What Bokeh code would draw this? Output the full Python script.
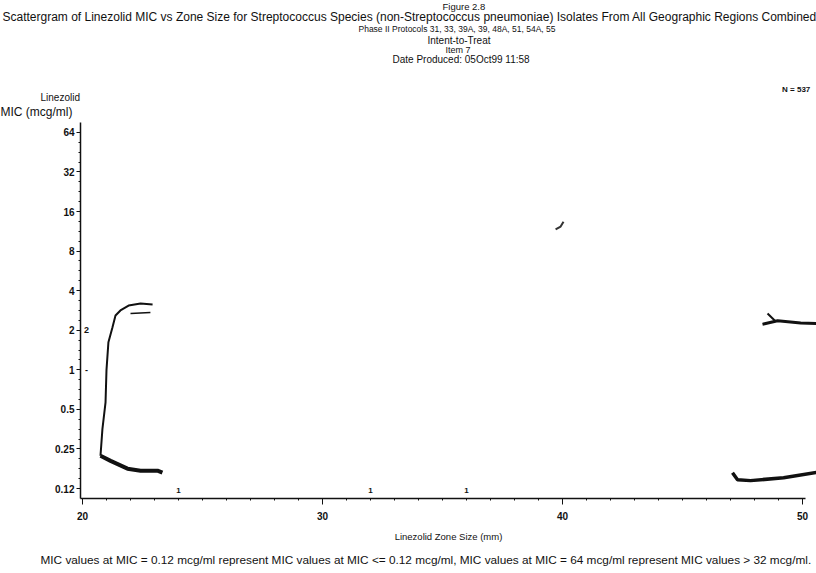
from bokeh.plotting import figure
from bokeh.models import Range1d, FixedTicker, Title
from bokeh.core.properties import value
from bokeh.embed import file_html
from bokeh.resources import INLINE

# ---- data ----
mic_ticks = [0.125, 0.25, 0.5, 1, 2, 4, 8, 16, 32, 64]
mic_tick_labels = ["0.12", "0.25", "0.5", "1", "2", "4", "8", "16", "32", "64"]
zone_ticks = [20, 30, 40, 50]
zone_minor = [21, 22, 23, 24, 25, 26, 27, 28, 29, 31, 32, 33, 34, 35, 36, 37, 38, 39,
              41, 42, 43, 44, 45, 46, 47, 48, 49]

# counts (zone at axis start)
edge_zone = [20, 20]
edge_mic = [2, 1]
edge_text = ["2", "-"]
# counts at MIC 0.12
low_zone = [24, 32, 36]
low_mic = [0.125, 0.125, 0.125]
low_text = ["1", "1", "1"]

# hand-drawn marks on the scanned page (zone, MIC)
scr1_zone = [22.92, 22.42, 21.92, 21.58, 21.375, 21.25, 21.08, 21.0, 20.96, 20.83, 20.75]
scr1_mic = [3.14, 3.19, 3.08, 2.83, 2.59, 2.11, 1.62, 1.0, 0.565, 0.354, 0.222]
scr2_zone = [20.75, 21.17, 21.875, 22.42, 23.125, 23.33]
scr2_mic = [0.222, 0.203, 0.177, 0.171, 0.171, 0.165]
scr3_zone = [22.0, 22.83]
scr3_mic = [2.68, 2.73]
scr4_zone = [48.33, 48.96, 49.92, 50.6]
scr4_mic = [2.22, 2.36, 2.27, 2.25]
scr5_zone = [48.54, 48.85]
scr5_mic = [2.68, 2.36]
scr6_zone = [47.08, 47.29, 47.83, 49.21, 50.6]
scr6_mic = [0.165, 0.146, 0.1436, 0.151, 0.166]
scr7_zone = [39.71, 39.92, 40.04]
scr7_mic = [11.7, 12.3, 13.4]

W, H = 816, 573
FONT = "Liberation Sans"
INK = "#111111"

p = figure(width=W, height=H, output_backend="svg", toolbar_location=None,
           y_axis_type="log",
           x_range=Range1d(19.917, 50.58), y_range=Range1d(0.105, 76.1),
           min_border_left=80, min_border_right=0, min_border_top=0,
           min_border_bottom=0)
p.outline_line_color = None
p.grid.visible = False
p.background_fill_color = "white"
p.border_fill_color = "white"

# y axis
ya = p.yaxis[0]
ya.ticker = FixedTicker(ticks=mic_ticks,
                        minor_ticks=[0.125 * 2 ** (i / 4) for i in range(0, 41)])
ya.major_label_overrides = {t: l for t, l in zip(mic_ticks, mic_tick_labels)}
ya.axis_line_width = 1.5
ya.axis_line_color = INK
ya.major_tick_out = 4
ya.major_tick_in = 0
ya.minor_tick_out = 2
ya.minor_tick_in = 0
ya.major_tick_line_color = INK
ya.minor_tick_line_color = INK
ya.major_label_text_font = FONT
ya.major_label_text_font_size = "10px"
ya.major_label_text_font_style = "bold"
ya.major_label_text_color = INK
ya.major_label_standoff = 2

xa = p.xaxis[0]
xa.ticker = FixedTicker(ticks=zone_ticks, minor_ticks=zone_minor)
xa.bounds = (19.917, 50.12)
xa.axis_line_width = 1.5
xa.axis_line_color = INK
xa.major_tick_out = 6
xa.major_tick_in = 0
xa.minor_tick_out = 2
xa.minor_tick_in = 0
xa.major_tick_line_color = INK
xa.minor_tick_line_color = INK
xa.major_label_text_font = FONT
xa.major_label_text_font_size = "10px"
xa.major_label_text_font_style = "bold"
xa.major_label_text_color = INK
xa.major_label_standoff = 7
xa.axis_label = "Linezolid Zone Size (mm)"
xa.axis_label_text_font = FONT
xa.axis_label_text_font_size = "9.5px"
xa.axis_label_text_font_style = "normal"
xa.axis_label_text_color = INK
xa.axis_label_standoff = 8

# scribbles
p.line(scr1_zone, scr1_mic, line_width=2, color=INK)
p.line(scr2_zone, scr2_mic, line_width=4, color=INK)
p.line(scr3_zone, scr3_mic, line_width=1.5, color=INK)
p.line(scr4_zone, scr4_mic, line_width=3, color=INK)
p.line(scr5_zone, scr5_mic, line_width=2, color=INK)
p.line(scr6_zone, scr6_mic, line_width=3.5, color=INK)
p.line(scr7_zone, scr7_mic, line_width=2, color="#333333")

# counts
p.text(x=edge_zone, y=edge_mic, text=edge_text, x_offset=4,
       text_font=value(FONT), text_font_size="9px", text_font_style="bold",
       text_align="center", text_baseline="middle", color=INK)
p.text(x=low_zone, y=low_mic, text=low_text, y_offset=2,
       text_font=value(FONT), text_font_size="8px", text_font_style="bold",
       text_align="center", text_baseline="middle", color=INK)


def title(text, size, align="left", offset=0, standoff=0, style="normal", side="above"):
    p.add_layout(Title(text=text, align=align, offset=offset, standoff=standoff,
                       text_font=FONT, text_font_size=size, text_font_style=style,
                       text_color=INK), side)


# above (first added = closest to the plot); offsets are from the frame's left edge
title("MIC (mcg/ml)", "12px", offset=-80, standoff=6.4)
title("Linezolid", "10px", offset=-40, standoff=-5.7)
title("N =  537", "8px", align="right", offset=4, standoff=0, style="bold")
title(" ", "9px", standoff=4.6)
title("Date Produced: 05Oct99 11:58", "10px", offset=312, standoff=1)
title("Item 7", "9px", offset=365, standoff=-6)
title("Intent-to-Treat", "10px", offset=347, standoff=-1)
title("Phase II Protocols 31, 33, 39A, 39, 48A, 51, 54A, 55", "8.5px", offset=278, standoff=-1.3)
title("Scattergram of Linezolid MIC vs Zone Size for Streptococcus Species "
      "(non-Streptococcus pneumoniae) Isolates From All Geographic Regions Combined",
      "12px", offset=-78, standoff=-3.3)
title("Figure 2.8", "9.5px", offset=362, standoff=-4)

# below
title("MIC values at MIC = 0.12 mcg/ml represent MIC values at MIC <= 0.12 mcg/ml, "
      "MIC values at MIC = 64 mcg/ml represent MIC values > 32 mcg/ml.",
      "11.8px", offset=-40, standoff=13, side="below")

open("out.html", "w").write(file_html(p, INLINE))
